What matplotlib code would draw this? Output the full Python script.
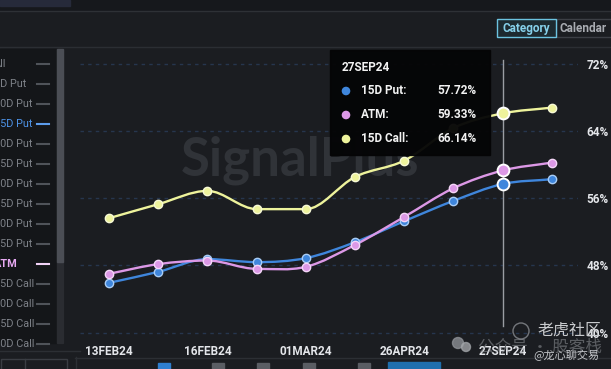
import numpy as np
import matplotlib
matplotlib.use("Agg")
import matplotlib.pyplot as plt
from matplotlib.path import Path
from matplotlib.patches import PathPatch, Rectangle, Circle

# data
expiries = ["13FEB24", "14FEB24", "16FEB24", "23FEB24", "01MAR24",
            "29MAR24", "26APR24", "28JUN24", "27SEP24", "27DEC24"]
put_15d = [45.93, 47.24, 48.76, 48.40, 48.88, 50.78, 53.29, 55.71, 57.72, 58.29]
atm = [47.01, 48.16, 48.59, 47.60, 47.84, 50.46, 53.80, 57.22, 59.33, 60.27]
call_15d = [53.64, 55.31, 56.90, 54.72, 54.72, 58.57, 60.51, 64.40, 66.14, 66.83]
y_ticks = [40, 48, 56, 64, 72]
x_label_idx = [0, 2, 4, 6, 8]
hover_idx = 8
legend_items = ["All", "5D Put", "10D Put", "15D Put", "20D Put", "25D Put",
                "30D Put", "35D Put", "40D Put", "45D Put", "ATM",
                "45D Call", "40D Call", "35D Call", "30D Call"]

BG = "#1b1d21"
PANEL = "#141619"
BLUE = "#3f86dc"
PINK = "#dc98e6"
YELLOW = "#eef39c"
TICK_FONT = ["Roboto", "DejaVu Sans"]
CJK = ["Noto Sans CJK SC", "DejaVu Sans"]


def smooth_path(ys):
    # cubic bezier through the points, flat tangents at turning points
    ys = np.asarray(ys, float)
    n = len(ys)
    m = np.zeros(n)
    for i in range(n):
        if i == 0:
            m[i] = ys[1] - ys[0]
        elif i == n - 1:
            m[i] = ys[-1] - ys[-2]
        else:
            d0 = ys[i] - ys[i - 1]
            d1 = ys[i + 1] - ys[i]
            m[i] = 0 if d0 * d1 <= 0 else (d0 + d1) / 2
    verts = [(0, ys[0])]
    codes = [Path.MOVETO]
    for i in range(n - 1):
        verts += [(i + 1 / 3, ys[i] + m[i] / 3), (i + 2 / 3, ys[i + 1] - m[i + 1] / 3), (i + 1, ys[i + 1])]
        codes += [Path.CURVE4] * 3
    return Path(verts, codes)


fig = plt.figure(figsize=(6.11, 3.69), dpi=100, facecolor=BG)

# background layer in pixel coords
bg = fig.add_axes([0, 0, 1, 1], zorder=0)
bg.set_xlim(0, 611)
bg.set_ylim(369, 0)
bg.axis("off")
bg.add_patch(Rectangle((0, 0), 611, 10, color="#16181c"))
bg.add_patch(Rectangle((0, 0), 70, 6, color="#262a3a"))
bg.plot([0, 611], [10.5, 10.5], color="#2e3136", lw=1)
bg.plot([0, 611], [46.5, 46.5], color="#2b2e33", lw=1)
# left list panel
bg.add_patch(Rectangle((0, 49), 63, 294, color=PANEL))
bg.add_patch(Rectangle((57, 49), 6, 294, color="#2a2c31"))
bg.add_patch(Rectangle((57, 49), 6, 213, color="#4b4e55"))
for i, name in enumerate(legend_items):
    yy = 64 + 20 * i
    col, dash, fw = "#7d8188", "#4f5359", "normal"
    if name == "15D Put":
        col, dash = "#4d92e6", "#5c9cec"
    if name == "ATM":
        col, dash, fw = "#e7a9f2", "#f2d2f7", "bold"
    bg.text(-6, yy, name, color=col, fontsize=7.8, fontweight=fw, family=TICK_FONT,
            ha="left", va="center")
    bg.plot([37, 49], [yy, yy], color=dash, lw=1.5)
# bottom bar
bg.plot([75, 611], [357.5, 357.5], color="#2c2f34", lw=1)
bg.plot([0, 80], [350.5, 350.5], color="#2c2f34", lw=1)
bg.plot([75.5, 75.5], [357, 369], color="#2c2f34", lw=1)
bg.add_patch(Rectangle((0.5, 359), 66, 12, fill=False, ec="#3a3d43", lw=1))
bg.plot([24.5, 24.5], [359, 369], color="#3a3d43", lw=1)
bg.add_patch(Rectangle((158, 363), 12, 8, color="#2f7fd0"))
for bx in [212, 257, 303, 358]:
    bg.add_patch(Rectangle((bx, 363), 12, 8, color="#5a5d63"))
bg.add_patch(Rectangle((388, 362), 52, 9, color="#1f6fae"))
# Category / Calendar toggle
bg.add_patch(Rectangle((556, 19), 60, 18, fill=False, ec="#3c3f45", lw=1))
bg.add_patch(Rectangle((497, 19), 59, 18, fc="#1d2a30", ec="#6cc3e0", lw=1))
bg.text(526.5, 28.5, "Category", color="#86d0ea", fontsize=8.5, fontweight="bold",
        family=TICK_FONT, ha="center", va="center")
bg.text(560, 28.5, "Calendar", color="#a9acb2", fontsize=8.5, fontweight="bold",
        family=TICK_FONT, ha="left", va="center")
# watermark
bg.text(300, 160, "SignalPlus", color="#303338", fontsize=38, fontweight="bold",
        family=["Lato", "DejaVu Sans"], ha="center", va="center")

# main chart
ax = fig.add_axes([79.5 / 611, 1 - 338 / 369, (578 - 79.5) / 611, (338 - 50) / 369], zorder=5)
ax.patch.set_alpha(0)
x = np.arange(len(expiries))
ax.set_xlim(-0.6, 9.53)
ax.set_ylim(39.35, 73.7)
for s in ax.spines.values():
    s.set_visible(False)
for t in y_ticks:
    ax.axhline(t, color="#26364e", lw=1, ls=(0, (2.5, 3)), zorder=1)
ax.axvline(hover_idx, ymin=0.04, ymax=0.965, color="#9a9da3", lw=1, zorder=2)

for ys, col, edge in [(put_15d, BLUE, "#a9cdf6"), (atm, PINK, "#f4d6f8"), (call_15d, YELLOW, "#f7f9d6")]:
    ax.add_patch(PathPatch(smooth_path(ys), fill=False, ec=col, lw=1.7, zorder=3))
    ax.plot(x, ys, ls="none", marker="o", ms=6, mfc=col, mec=edge, mew=1, zorder=4)
    ax.plot(x[hover_idx], ys[hover_idx], ls="none", marker="o", ms=8.5, mfc=col,
            mec="#ffffff", mew=1.4, zorder=4)

ax.yaxis.tick_right()
ax.set_yticks(y_ticks)
ax.set_yticklabels([f"{t}%" for t in y_ticks])
ax.set_xticks(x_label_idx)
ax.set_xticklabels([expiries[i] for i in x_label_idx])
ax.tick_params(axis="both", length=0, colors="#e4e6ea", labelsize=8.5)
ax.tick_params(axis="y", pad=6)
ax.tick_params(axis="x", pad=5)
for lab in ax.get_xticklabels() + ax.get_yticklabels():
    lab.set_fontweight("bold")
    lab.set_family(TICK_FONT)

# overlay: tooltip and the corner watermark
ov = fig.add_axes([0, 0, 1, 1], zorder=10)
ov.set_xlim(0, 611)
ov.set_ylim(369, 0)
ov.axis("off")
ov.patch.set_alpha(0)
ov.add_patch(Rectangle((330, 50), 160, 105, color="#050506", alpha=0.96))
ov.text(342, 67.5, expiries[hover_idx], color="#f2f2f2", fontsize=8.5, fontweight="bold",
        family=TICK_FONT, va="center")
for yy, name, val, col in [(91, "15D Put:", put_15d[hover_idx], BLUE),
                           (115, "ATM:", atm[hover_idx], PINK),
                           (139, "15D Call:", call_15d[hover_idx], YELLOW)]:
    ov.add_patch(Circle((346, yy), 3.6, color=col))
    ov.text(361, yy, name, color="#f2f2f2", fontsize=8.5, fontweight="bold",
            family=TICK_FONT, va="center")
    ov.text(477, yy, f"{val:.2f}%", color="#f2f2f2", fontsize=8.5, fontweight="bold",
            family=TICK_FONT, va="center", ha="right")

ov.add_patch(Circle((521, 331), 8, fill=False, ec="#8a8d92", lw=1, alpha=0.8))
ov.text(537, 330, "老虎社区", color="#c9cbce", fontsize=11.5, family=CJK, va="center", ha="left")
ov.add_patch(Circle((458, 343), 5.5, color="#8d9095", alpha=0.8))
ov.add_patch(Circle((466, 347), 4.5, color="#a0a3a7", alpha=0.8))
ov.text(478, 347, "公众号 · 股客栈", color="#9a9da2", fontsize=12, family=CJK,
        va="center", ha="left", alpha=0.5)
ov.text(533, 355, "@龙心聊交易", color="#c4c6ca", fontsize=8, family=CJK, va="center", ha="left")

fig.savefig("out.png", dpi=100, facecolor=BG)
